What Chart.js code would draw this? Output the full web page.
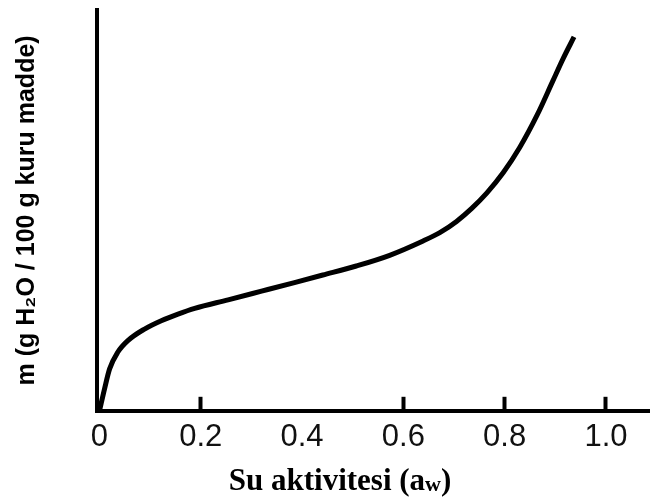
<!DOCTYPE html>
<html>
<head>
<meta charset="utf-8">
<script src="https://cdn.jsdelivr.net/npm/chart.js@4.4.1/dist/chart.umd.min.js"></script>
<style>
  html, body { margin: 0; padding: 0; background: #fff; }
  #wrap { width: 650px; height: 501px; position: relative; }
</style>
</head>
<body>
<div id="wrap"><canvas id="isotherm"></canvas></div>
<script>
// su aktivitesi (x) ve nem içeriği (y)
const aw = [0, 0.010, 0.020, 0.036, 0.056, 0.089, 0.122, 0.155, 0.188, 0.254, 0.320, 0.385,
  0.441, 0.507, 0.573, 0.639, 0.672, 0.705, 0.735, 0.765, 0.797, 0.830, 0.864, 0.895, 0.915, 0.937];
const moisture = [0, 2.19, 4.18, 5.84, 7.0, 8.16, 8.99, 9.65, 10.22, 11.07, 11.94, 12.80,
  13.55, 14.45, 15.52, 16.95, 17.78, 18.90, 20.20, 21.75, 23.75, 26.30, 29.50, 32.90, 35.10, 37.31];

// eksen etiketleri
const xTicks = [0, 0.2, 0.4, 0.6, 0.8, 1.0];
const xTickLabels = ['0', '0.2', '0.4', '0.6', '0.8', '1.0'];
const xTickMarks = [0.2, 0.6, 0.8, 1.0]; // 0.4'te çentik yok
const yTitle = 'm (g H\u2082O / 100 g kuru madde)';
const xTitle = ['Su aktivitesi (a', 'w', ')'];

const points = aw.map((x, i) => ({ x: x, y: moisture[i] }));

// x ekseni başlığı: alt simgeli "w" için elle çiziliyor
const xTitlePlugin = {
  id: 'xTitle',
  afterDraw(chart) {
    const ctx = chart.ctx;
    const big = 'bold 31px "Liberation Serif", "Times New Roman", serif';
    const small = 'bold 22px "Liberation Serif", "Times New Roman", serif';
    ctx.save();
    ctx.fillStyle = '#000';
    ctx.textBaseline = 'alphabetic';
    ctx.textAlign = 'left';
    ctx.font = big;
    const w1 = ctx.measureText(xTitle[0]).width;
    const w3 = ctx.measureText(xTitle[2]).width;
    ctx.font = small;
    const w2 = ctx.measureText(xTitle[1]).width;
    const total = w1 + w2 + w3;
    const cx = 340;
    const base = 490;
    let x = cx - total / 2;
    ctx.font = big;
    ctx.fillText(xTitle[0], x, base);
    x += w1;
    ctx.font = small;
    ctx.fillText(xTitle[1], x, base + 1);
    x += w2;
    ctx.font = big;
    ctx.fillText(xTitle[2], x, base);
    ctx.restore();
  }
};

const ctx = document.getElementById('isotherm').getContext('2d');
new Chart(ctx, {
  type: 'line',
  data: {
    datasets: [{
      data: points,
      borderColor: '#000',
      borderWidth: 5,
      borderCapStyle: 'butt',
      cubicInterpolationMode: 'monotone',
      pointRadius: 0,
      fill: false,
    }]
  },
  options: {
    responsive: true,
    maintainAspectRatio: false,
    animation: false,
    layout: { padding: { left: 0, top: 10, right: 0, bottom: 23 } },
    plugins: {
      legend: { display: false },
      tooltip: { enabled: false },
    },
    scales: {
      x: {
        type: 'linear',
        min: -0.0049,
        max: 1.087,
        afterBuildTicks: (scale) => {
          scale.ticks = xTicks.map((v) => ({ value: v }));
        },
        ticks: {
          autoSkip: false,
          maxRotation: 0,
          padding: 22,
          color: '#111',
          font: { family: '"Liberation Sans", Arial, sans-serif', size: 31 },
          callback: (value, index) => xTickLabels[index],
        },
        grid: {
          drawOnChartArea: false,
          drawTicks: true,
          tickLength: -14,
          tickWidth: 4,
          tickColor: (c) => xTickMarks.some((m) => Math.abs(m - c.tick.value) < 1e-6) ? '#000' : 'rgba(0,0,0,0)',
        },
        border: { display: true, color: '#000', width: 4 },
      },
      y: {
        type: 'linear',
        min: 0,
        max: 40,
        ticks: { display: false },
        grid: { display: false, drawTicks: false },
        border: { display: true, color: '#000', width: 4 },
        title: {
          display: true,
          text: yTitle,
          color: '#000',
          padding: { top: 12, bottom: 55 },
          font: { family: '"Liberation Sans", Arial, sans-serif', size: 25, weight: 'bold', lineHeight: 1.2 },
        },
      },
    },
  },
  plugins: [xTitlePlugin],
});
</script>
</body>
</html>
